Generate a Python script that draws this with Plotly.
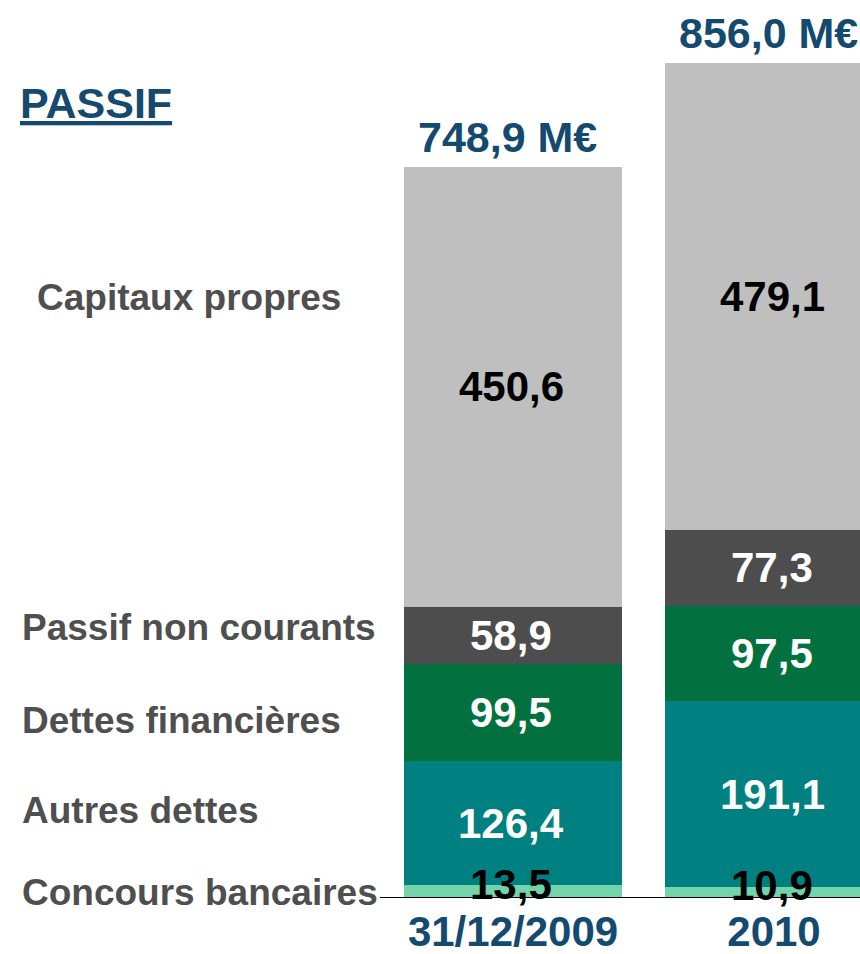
import plotly.graph_objects as go

categories = ["31/12/2009", "2010"]
series_names = ["Concours bancaires", "Autres dettes", "Dettes financières",
                "Passif non courants", "Capitaux propres"]
concours = [13.5, 10.9]
autres = [126.4, 191.1]
dettes_fin = [99.5, 97.5]
passif_nc = [58.9, 77.3]
capitaux = [450.6, 479.1]
totals = [748.9, 856.0]

series = [concours, autres, dettes_fin, passif_nc, capitaux]
colors = ["#72D4A8", "#008080", "#037040", "#4D4D4D", "#BFBFBF"]
label_colors = ["black", "white", "white", "white", "black"]

FONT = "Arial, Liberation Sans, sans-serif"
NAVY = "#154A70"

def fmt(v):
    return f"{v:.1f}".replace(".", ",")

fig = go.Figure()
xpos = [0, 1]
for name, vals, col in zip(series_names, series, colors):
    fig.add_trace(go.Bar(x=xpos, y=vals, name=name, marker_color=col,
                         marker_line_width=0, width=0.835, hoverinfo="skip"))

annotations = []
for i in range(len(categories)):
    base = 0
    for s, vals in enumerate(series):
        v = vals[i]
        mid = base + v / 2
        yshift = 7 if s == 0 else 0
        annotations.append(dict(x=xpos[i], y=mid, xref="x", yref="y",
                                text="<b>" + fmt(v) + "</b>",
                                showarrow=False, yshift=yshift, xshift=-2,
                                font=dict(family=FONT, size=42, color=label_colors[s])))
        base += v
    annotations.append(dict(x=xpos[i], y=base, xref="x", yref="y",
                            text="<b>" + fmt(totals[i]) + " M€</b>", showarrow=False,
                            yanchor="bottom", yshift=4, xshift=-6,
                            font=dict(family=FONT, size=43, color=NAVY)))

left_labels = [("Capitaux propres", 35, 297), ("Passif non courants", 20, 627),
               ("Dettes financières", 20, 720), ("Autres dettes", 20, 810),
               ("Concours bancaires", 20, 892)]
for txt, px, py in left_labels:
    annotations.append(dict(x=px / 860, y=1 - py / 954, xref="paper", yref="paper",
                            yanchor="middle",
                            text="<b>" + txt + "</b>", showarrow=False, xanchor="left",
                            font=dict(family=FONT, size=37, color="#4F4F4F")))

annotations.append(dict(x=18 / 860, y=1 - 103 / 954, xref="paper", yref="paper",
                        text="<b><u>PASSIF</u></b>", showarrow=False, xanchor="left",
                        yanchor="middle",
                        font=dict(family=FONT, size=43, color=NAVY)))

fig.update_layout(
    width=860, height=954,
    margin=dict(l=0, r=0, t=0, b=0),
    paper_bgcolor="white", plot_bgcolor="rgba(0,0,0,0)",
    barmode="stack", showlegend=False,
    annotations=annotations,
    shapes=[dict(type="line", xref="paper", yref="y", x0=380 / 860, x1=1,
                 y0=0, y1=0, line=dict(color="black", width=2))],
)
fig.update_xaxes(range=[-1.9655, 1.3295], tickmode="array", tickvals=xpos,
                 ticktext=["<b>" + c + "</b>" for c in categories],
                 showgrid=False, zeroline=False,
                 showline=False, ticks="", automargin=False, ticklabelstandoff=5,
                 tickfont=dict(family=FONT, size=42, color=NAVY),
                 fixedrange=True)
fig.update_yaxes(range=[0, 920.1], domain=[56 / 954, 1], showgrid=False,
                 zeroline=False, showticklabels=False, automargin=False)

fig.write_html("out.html", config={"displayModeBar": False},
               post_script="document.body.style.margin='0';")
